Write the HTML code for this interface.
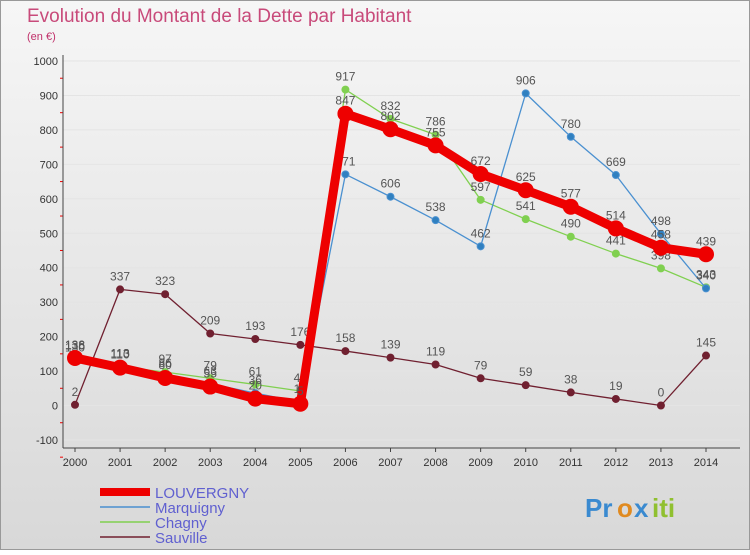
<!DOCTYPE html>
<html><head><meta charset="utf-8"><style>
body{margin:0;width:750px;height:550px;overflow:hidden;font-family:"Liberation Sans",sans-serif}
</style></head><body>
<svg width="750" height="550" xmlns="http://www.w3.org/2000/svg">
<defs><linearGradient id="bg" x1="0" y1="0" x2="0" y2="1"><stop offset="0" stop-color="#f6f6f6"/><stop offset="1" stop-color="#d8d8d8"/></linearGradient></defs>
<rect x="0.5" y="0.5" width="749" height="549" fill="url(#bg)" stroke="#999"/>
<text x="27" y="22" font-size="19" fill="#c84a7a">Evolution du Montant de la Dette par Habitant</text>
<text x="27" y="40" font-size="11" fill="#c0306a">(en €)</text>
<g id="axes"></g><g id="series"></g><g id="legend"></g>
<g font-size="26" font-weight="bold">
<text x="585" y="517" fill="#3a8ad0">Pr</text><text x="617" y="517" fill="#e08a20">o</text><text x="634" y="517" fill="#3a8ad0">x</text><text x="652" y="517" fill="#90c030">iti</text>
</g>
</svg>
<script>
const years=[2000,2001,2002,2003,2004,2005,2006,2007,2008,2009,2010,2011,2012,2013,2014];
const yTicks=[-100,0,100,200,300,400,500,600,700,800,900,1000];
const louvergny=[138,110,80,55,20,5,847,802,755,672,625,577,514,458,439];
const marquigny=[136,113,86,63,36,10,671,606,538,462,906,780,669,498,340];
const chagny=[130,113,97,79,61,42,917,832,786,597,541,490,441,398,343];
const sauville=[2,337,323,209,193,176,158,139,119,79,59,38,19,0,145];
const NS="http://www.w3.org/2000/svg";
const X=i=>75+i*(706-75)/14, Y=v=>405.5-v*0.3445;
function mk(p,t,a){const e=document.createElementNS(NS,t);for(const k in a)e.setAttribute(k,a[k]);p.appendChild(e);return e;}
const ax=document.getElementById('axes');
yTicks.forEach(v=>{const g=mk(ax,'line',{x1:63,x2:740,y1:Y(v),y2:Y(v),stroke:'#e4e4e4'});

const t=mk(ax,'text',{x:58,y:Y(v)+4,'font-size':11,'text-anchor':'end',fill:'#333'});t.textContent=v;

mk(ax,'line',{x1:60,x2:63,y1:Y(v-50),y2:Y(v-50),stroke:'#e00'});});
mk(ax,'line',{x1:63,x2:63,y1:55,y2:448,stroke:'#444'});
mk(ax,'line',{x1:63,x2:740,y1:448,y2:448,stroke:'#444'});
years.forEach((y,i)=>{mk(ax,'line',{x1:X(i),x2:X(i),y1:448,y2:452,stroke:'#444'});
const t=mk(ax,'text',{x:X(i),y:466,'font-size':11,'text-anchor':'middle',fill:'#333'});t.textContent=y;
});
const S=document.getElementById('series');
function draw(name,d,col,w,r,dot){const g=mk(S,'g',{});

mk(g,'polyline',{points:d.map((v,i)=>X(i)+','+Y(v)).join(' '),fill:'none',stroke:col,'stroke-width':w,'stroke-linejoin':'round'});
d.forEach((v,i)=>{const c=mk(g,'circle',{cx:X(i),cy:Y(v),r:r,fill:dot,stroke:col,'stroke-width':1});

const t=mk(g,'text',{x:X(i),y:Y(v)-9,'font-size':12,'text-anchor':'middle',fill:'#555'});t.textContent=v;});}
draw('sauville',sauville,'#702030',1.3,3.5,'#702030');
draw('chagny',chagny,'#80d050',1.3,3.5,'#80d050');
draw('marquigny',marquigny,'#4a90d0',1.3,3.5,'#3080c0');
draw('louvergny',louvergny,'#ee0000',9,7.5,'#ee0000');
const L=document.getElementById('legend');
[['LOUVERGNY','#ee0000',8],['Marquigny','#4a90d0',1.5],['Chagny','#80d050',1.5],['Sauville','#702030',1.5]].forEach((e,i)=>{
const y=492+i*15;const g=mk(L,'g',{});
mk(g,'line',{x1:100,x2:150,y1:y,y2:y,stroke:e[1],'stroke-width':e[2]});
const t=mk(g,'text',{x:155,y:y+6,'font-size':15,fill:'#6060d0'});t.textContent=e[0];});
</script>
</body></html>
